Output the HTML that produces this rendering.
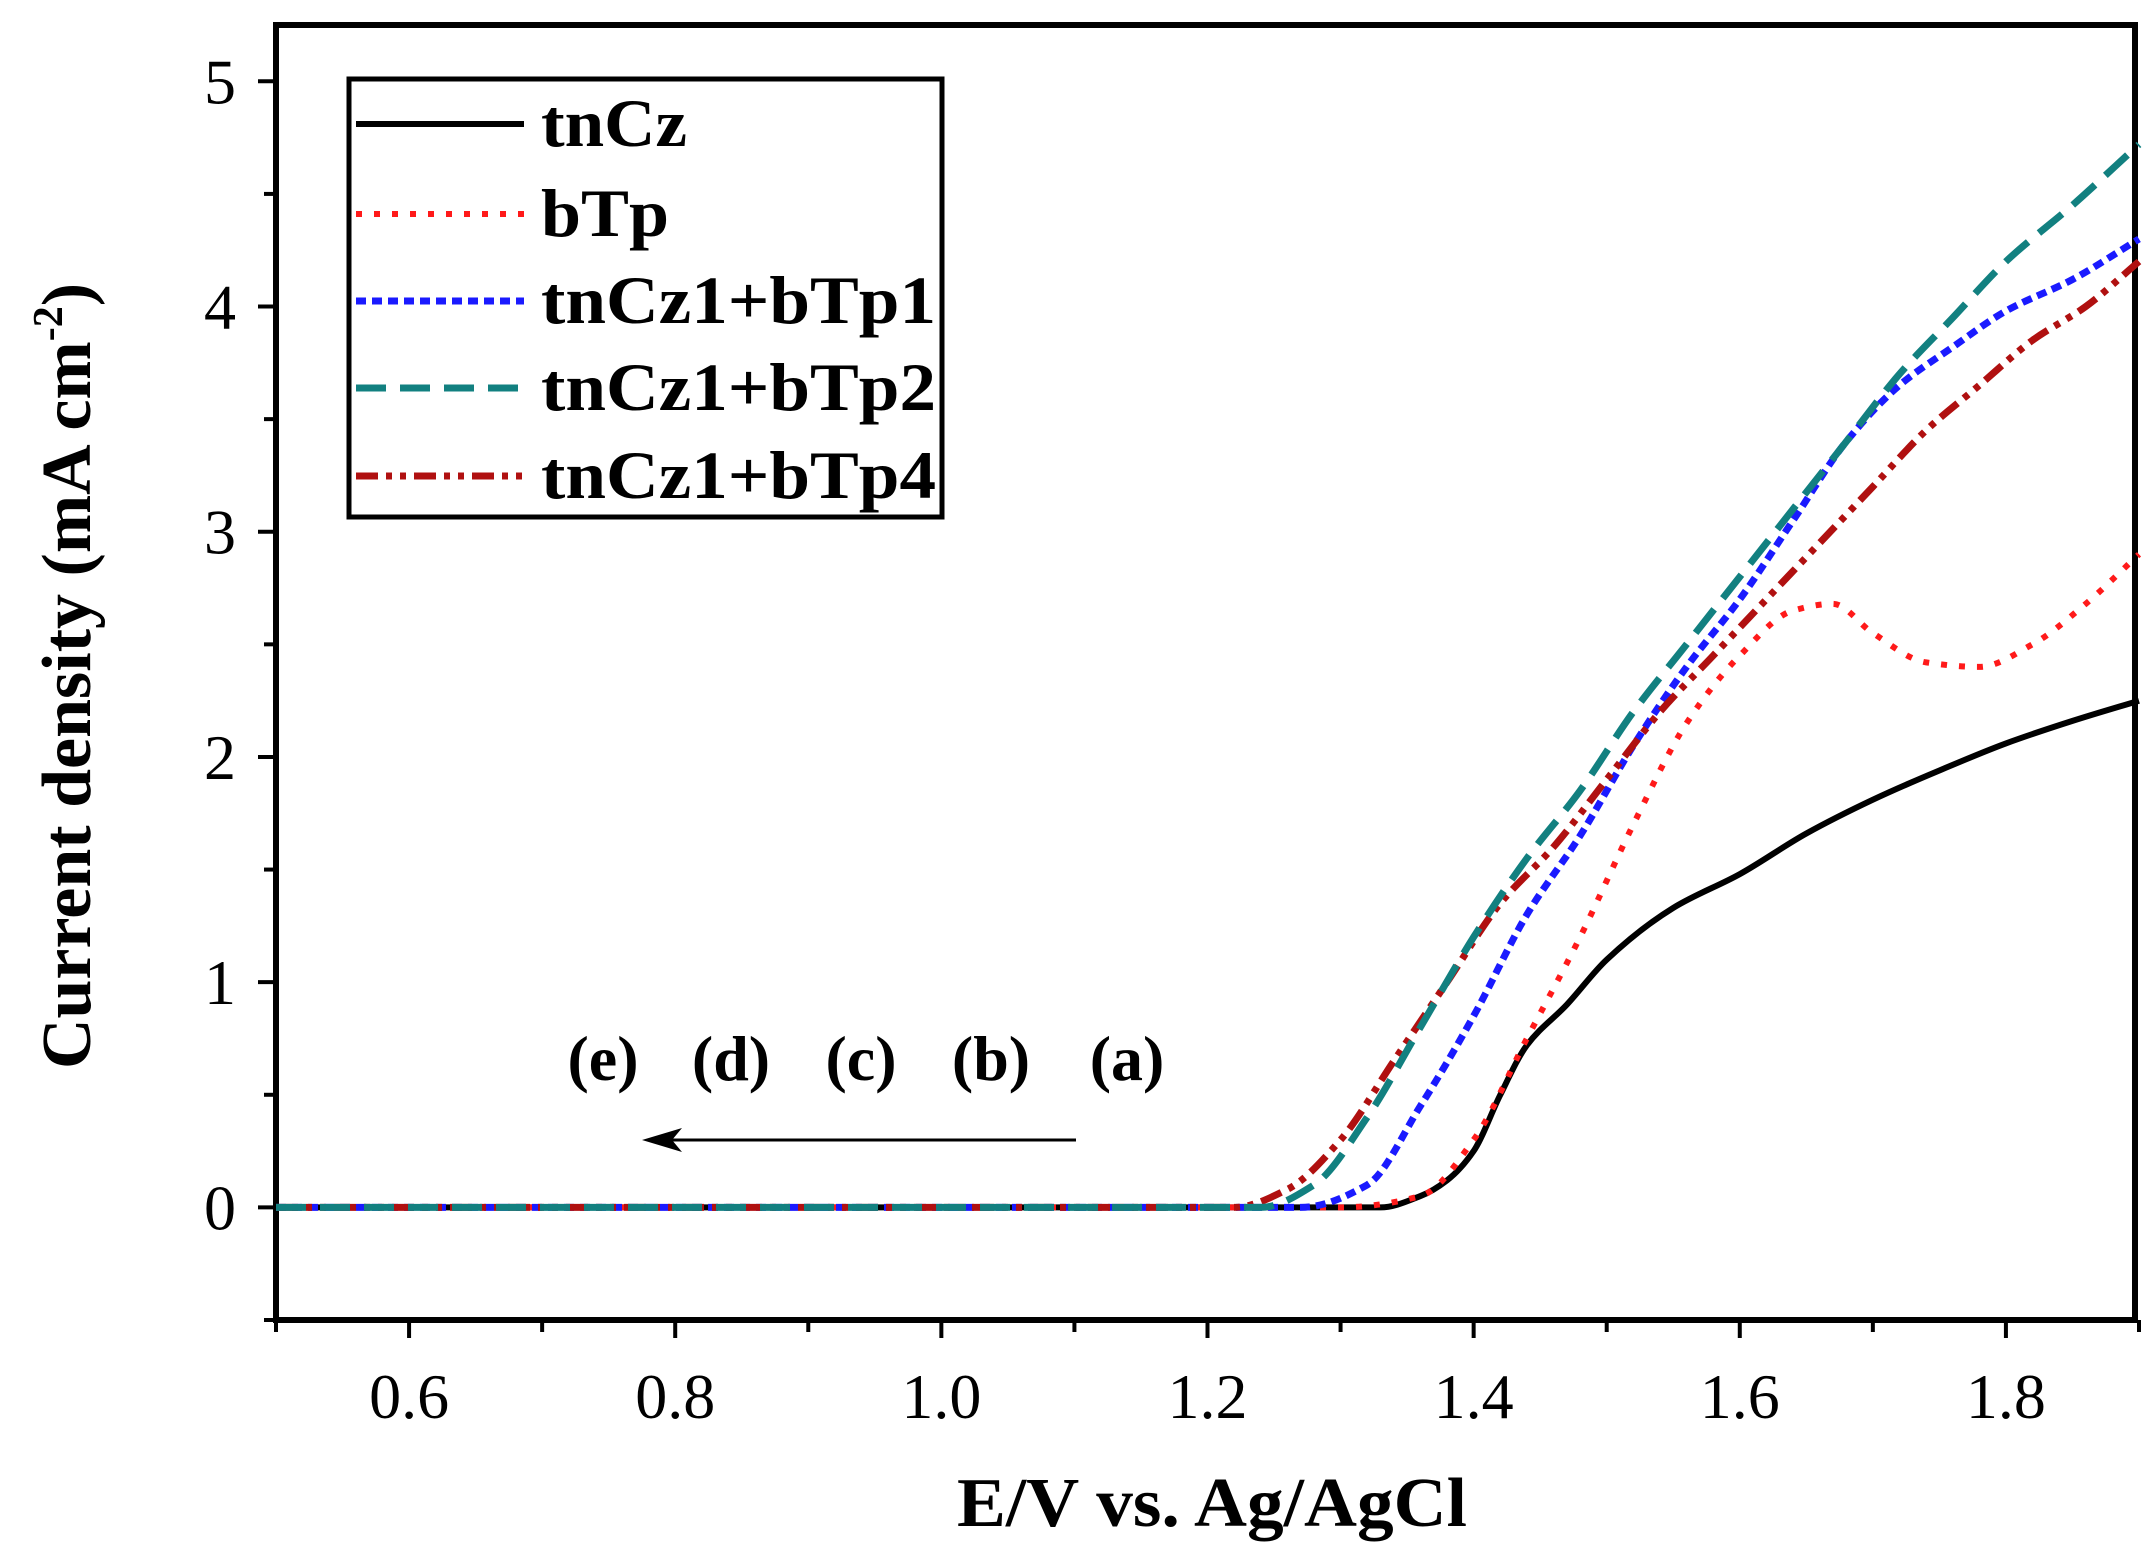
<!DOCTYPE html>
<html><head><meta charset="utf-8"><style>
html,body{margin:0;padding:0;background:#fff;}
svg text{font-family:"Liberation Serif",serif;font-weight:bold;}
</style></head><body>
<svg id="chart" width="2152" height="1547" viewBox="0 0 2152 1547" xmlns="http://www.w3.org/2000/svg">
<g id="axes"></g>
<g id="series"></g>
<g id="legend"></g>
<text x="1212" y="1526" font-size="70" text-anchor="middle" textLength="510" lengthAdjust="spacingAndGlyphs">E/V vs. Ag/AgCl</text>
<text transform="translate(90,676) rotate(-90)" font-size="70" text-anchor="middle">Current density (mA cm<tspan dy="-28" font-size="42">-2</tspan><tspan dy="28">)</tspan></text>
<g font-size="64" text-anchor="middle">
<text x="603" y="1080">(e)</text><text x="731" y="1080">(d)</text><text x="861" y="1080">(c)</text><text x="991" y="1080">(b)</text><text x="1127" y="1080">(a)</text>
</g>
<g>
<line x1="1076" y1="1140" x2="660" y2="1140" stroke="#000" stroke-width="3"/>
<polygon points="642,1140 682,1128 672,1140 682,1152" fill="#000"/>
</g>
</svg>
<script>
const xTicks=[0.6,0.8,1.0,1.2,1.4,1.6,1.8];
const xTickLabels=["0.6","0.8","1.0","1.2","1.4","1.6","1.8"];
const yTicks=[0,1,2,3,4,5];
const yTickLabels=["0","1","2","3","4","5"];
const seriesNames=["tnCz","bTp","tnCz1+bTp1","tnCz1+bTp2","tnCz1+bTp4"];
const xTnCz=[0.5,1.33,1.36,1.38,1.40,1.42,1.44,1.47,1.5,1.55,1.6,1.65,1.7,1.75,1.8,1.85,1.9];
const yTnCz=[0,0,0.05,0.12,0.25,0.5,0.72,0.9,1.1,1.33,1.48,1.66,1.81,1.94,2.06,2.16,2.25];
const xBTp=[0.5,1.3,1.36,1.4,1.44,1.48,1.52,1.56,1.6,1.64,1.67,1.7,1.74,1.78,1.82,1.86,1.9];
const yBTp=[0,0,0.05,0.3,0.75,1.2,1.7,2.15,2.45,2.65,2.68,2.55,2.42,2.4,2.5,2.68,2.9];
const xB1=[0.5,1.27,1.32,1.36,1.4,1.44,1.48,1.52,1.56,1.6,1.64,1.68,1.72,1.76,1.8,1.85,1.9];
const yB1=[0,0,0.1,0.45,0.85,1.3,1.65,2.05,2.4,2.7,3.05,3.4,3.65,3.82,3.98,4.12,4.3];
const xB2=[0.5,1.24,1.28,1.32,1.36,1.4,1.44,1.48,1.52,1.56,1.6,1.64,1.68,1.72,1.76,1.8,1.85,1.9];
const yB2=[0,0,0.1,0.4,0.8,1.2,1.55,1.85,2.2,2.5,2.8,3.1,3.4,3.7,3.95,4.2,4.45,4.72];
const xB4=[0.5,1.22,1.26,1.3,1.34,1.38,1.42,1.46,1.5,1.54,1.58,1.62,1.66,1.7,1.74,1.78,1.82,1.86,1.9];
const yB4=[0,0,0.08,0.3,0.65,1.0,1.35,1.6,1.9,2.2,2.45,2.7,2.95,3.2,3.45,3.65,3.85,4.0,4.2];

const L=276,R=2135,T=25,B=1320;
const X0=0.5,X1=1.897,Y0=-0.5,Y1=5.25;
const sx=v=>L+(v-X0)/(X1-X0)*(R-L);
const sy=v=>B-(v-Y0)/(Y1-Y0)*(B-T);
const NS="http://www.w3.org/2000/svg";
function mk(tag,attrs,parent){const e=document.createElementNS(NS,tag);for(const k in attrs)e.setAttribute(k,attrs[k]);parent.appendChild(e);return e;}
const axes=document.getElementById('axes');
const fr=mk('rect',{x:L,y:T,width:R-L,height:B-T,fill:'none',stroke:'#000','stroke-width':6},axes);


for(let v=0.5;v<=1.9001;v+=0.1){
  const major=Math.abs(Math.round(v*10)%2)===0;
  const t=mk('line',{x1:sx(v),x2:sx(v),y1:B,y2:B+(major?18:12),stroke:'#000','stroke-width':4},axes);
  
  
}
xTicks.forEach((v,i)=>{
  const t=mk('text',{x:sx(v),y:B+98,'font-size':64,'text-anchor':'middle'},axes);
  t.style.fontWeight='normal';
  t.textContent=xTickLabels[i];
  
  
});
for(let v=-0.5;v<=5.0001;v+=0.5){
  const major=Math.abs(v-Math.round(v))<1e-6;
  const t=mk('line',{x1:L,x2:L-(major?18:12),y1:sy(v),y2:sy(v),stroke:'#000','stroke-width':4},axes);
  
  
}
yTicks.forEach((v,i)=>{
  const t=mk('text',{x:L-40,y:sy(v)+22,'font-size':64,'text-anchor':'end'},axes);
  t.style.fontWeight='normal';
  t.textContent=yTickLabels[i];
  
  
});
const styles=[
 {c:'#000',d:'',w:6},
 {c:'#ff1a1a',d:'6 12',w:6},
 {c:'#1a1aff',d:'10 6',w:7},
 {c:'#128080',d:'30 14',w:7},
 {c:'#b01010',d:'22 8 6 8 6 8',w:7}
];
const xs=[xTnCz,xBTp,xB1,xB2,xB4], ys=[yTnCz,yBTp,yB1,yB2,yB4];
function monoPath(px,py){
  const n=px.length, m=[], t=[];
  for(let i=0;i<n-1;i++) m.push((py[i+1]-py[i])/(px[i+1]-px[i]));
  t[0]=m[0]; t[n-1]=m[n-2];
  for(let i=1;i<n-1;i++){
    if(m[i-1]*m[i]<=0) t[i]=0;
    else { const h0=px[i]-px[i-1], h1=px[i+1]-px[i];
      const w1=2*h1+h0, w2=h1+2*h0; t[i]=(w1+w2)/(w1/m[i-1]+w2/m[i]); }
  }
  let d='M'+px[0].toFixed(1)+','+py[0].toFixed(1);
  for(let i=0;i<n-1;i++){
    const h=(px[i+1]-px[i])/3;
    d+=' C'+(px[i]+h).toFixed(1)+','+(py[i]+t[i]*h).toFixed(1)+' '+(px[i+1]-h).toFixed(1)+','+(py[i+1]-t[i+1]*h).toFixed(1)+' '+px[i+1].toFixed(1)+','+py[i+1].toFixed(1);
  }
  return d;
}
const sg=document.getElementById('series');
const order=[0,1,2,4,3];
order.forEach(i=>{
  const px=xs[i].map(sx), py=ys[i].map(sy);
  const p=mk('path',{d:monoPath(px,py),fill:'none',stroke:styles[i].c,'stroke-width':styles[i].w,'stroke-dasharray':styles[i].d,'stroke-linejoin':'round'},sg);
  
  
});
const lg=document.getElementById('legend');
const box=mk('rect',{x:349,y:79,width:593,height:438,fill:'#fff',stroke:'#000','stroke-width':5},lg);


const ly=[124,214,301,388,476];
const lw=[146,128,395,395,395];
seriesNames.forEach((n,i)=>{
  const ln=mk('line',{x1:356,x2:524,y1:ly[i],y2:ly[i],stroke:styles[i].c,'stroke-width':styles[i].w,'stroke-dasharray':styles[i].d},lg);
  
  
  const t=mk('text',{x:541,y:ly[i]+22,'font-size':68,textLength:lw[i],lengthAdjust:'spacingAndGlyphs'},lg);
  t.textContent=n;
  
  
});
</script>
</body></html>
